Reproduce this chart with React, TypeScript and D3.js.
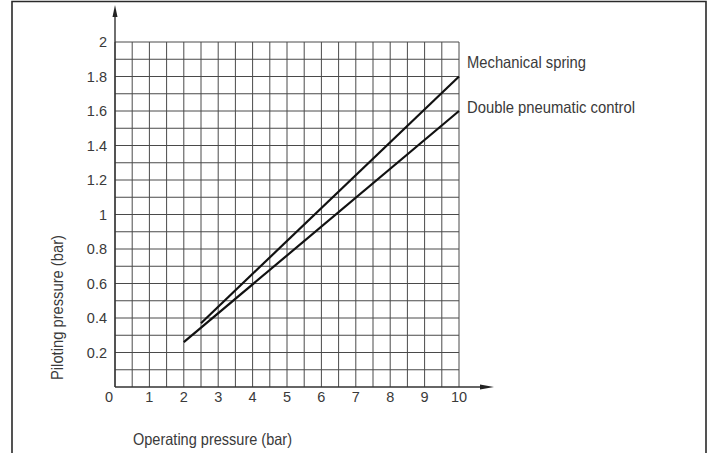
import React from "react";
import * as d3 from "d3";

const xTickLabels = ["0", "1", "2", "3", "4", "5", "6", "7", "8", "9", "10"];
const xTickValues = [0, 1, 2, 3, 4, 5, 6, 7, 8, 9, 10];
const yTickValues = [0.2, 0.4, 0.6, 0.8, 1, 1.2, 1.4, 1.6, 1.8, 2];
const yTickLabels = ["0.2", "0.4", "0.6", "0.8", "1", "1.2", "1.4", "1.6", "1.8", "2"];
const seriesNames = ["Mechanical spring", "Double pneumatic control"];
const mechanicalX = [2.5, 10];
const mechanicalY = [0.37, 1.8];
const doubleX = [2, 10];
const doubleY = [0.26, 1.6];
const xLabel = "Operating pressure (bar)";
const yLabel = "Piloting pressure (bar)";

const W = 712;
const H = 453;
const FONT = "'Liberation Sans', Arial, sans-serif";

export default function App() {
  const x = d3.scaleLinear().domain([0, 10]).range([115, 459]);
  const y = d3.scaleLinear().domain([0, 2]).range([387, 42]);

  const vGrid = d3.range(0, 10.001, 0.5);
  const hGrid = d3.range(1, 21).map((i) => i / 10);

  const line = d3
    .line<[number, number]>()
    .x((d) => x(d[0]))
    .y((d) => y(d[1]));

  const mech: [number, number][] = mechanicalX.map((v, i) => [v, mechanicalY[i]]);
  const dbl: [number, number][] = doubleX.map((v, i) => [v, doubleY[i]]);

  const textColor = "#3a3a3a";

  return (
    <svg
      width={W}
      height={H}
      style={{ position: "absolute", left: 0, top: 0, background: "#fff" }}
      fontFamily={FONT}
    >
      {/* frame */}
      <path
        d={`M12,${H + 5} L12,1.5 L706,1.5 L706,${H + 5}`}
        fill="none"
        stroke="#2a2a2a"
        strokeWidth={1.6}
      />
      {/* grid */}
      {vGrid.map((v) => (
        <line
          key={"v" + v}
          x1={x(v)}
          x2={x(v)}
          y1={y(0)}
          y2={y(2)}
          stroke="#4a4a4a"
          strokeWidth={1}
        />
      ))}
      {hGrid.map((v) => (
        <line
          key={"h" + v}
          x1={x(0)}
          x2={x(10)}
          y1={y(v)}
          y2={y(v)}
          stroke="#4a4a4a"
          strokeWidth={1}
        />
      ))}
      {/* axes */}
      <line x1={x(0)} x2={x(0)} y1={y(0)} y2={15} stroke="#333" strokeWidth={1.4} />
      <path d={`M${x(0)},5 L${x(0) - 2.5},17 L${x(0) + 2.5},17 Z`} fill="#222" />
      <line x1={x(0)} x2={482} y1={y(0)} y2={y(0)} stroke="#333" strokeWidth={1.4} />
      <path d={`M494,${y(0)} L480,${y(0) - 2.5} L480,${y(0) + 2.5} Z`} fill="#222" />

      {/* series */}
      <path d={line(mech) || ""} fill="none" stroke="#111" strokeWidth={2.2} />
      <path d={line(dbl) || ""} fill="none" stroke="#111" strokeWidth={2.2} />

      {/* series labels */}
      <text
        x={467}
        y={y(mechanicalY[1]) - 9}
        fontSize={16.5}
        fill={textColor}
        textLength={119}
        lengthAdjust="spacingAndGlyphs"
      >
        {seriesNames[0]}
      </text>
      <text
        x={467}
        y={y(doubleY[1]) + 1.5}
        fontSize={16.5}
        fill={textColor}
        textLength={168}
        lengthAdjust="spacingAndGlyphs"
      >
        {seriesNames[1]}
      </text>

      {/* y tick labels */}
      {yTickValues.map((v, i) => (
        <text
          key={"yt" + v}
          x={107}
          y={y(v) + 5}
          textAnchor="end"
          fontSize={14.5}
          fill={textColor}
        >
          {yTickLabels[i]}
        </text>
      ))}
      {/* x tick labels */}
      {xTickValues.map((v, i) => (
        <text
          key={"xt" + v}
          x={v === 0 ? x(v) - 6 : x(v)}
          y={402}
          textAnchor="middle"
          fontSize={14.5}
          fill={textColor}
        >
          {xTickLabels[i]}
        </text>
      ))}

      {/* axis titles */}
      <text
        x={133}
        y={445}
        fontSize={16.5}
        fill={textColor}
        textLength={159}
        lengthAdjust="spacingAndGlyphs"
      >
        {xLabel}
      </text>
      <text
        transform={`translate(63,${307.5}) rotate(-90)`}
        textAnchor="middle"
        fontSize={16.5}
        fill={textColor}
        textLength={145}
        lengthAdjust="spacingAndGlyphs"
      >
        {yLabel}
      </text>
    </svg>
  );
}
